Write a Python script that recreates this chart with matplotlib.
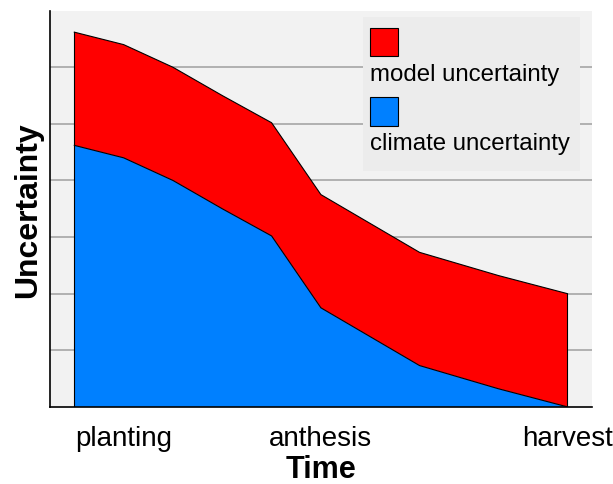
import numpy as np
import matplotlib
matplotlib.use("Agg")
import matplotlib.pyplot as plt
from matplotlib.patches import Rectangle

plt.rcParams['font.family'] = ['Liberation Sans', 'DejaVu Sans']

# stage positions along the season and stacked uncertainty values
time = [0, 1, 2, 3, 4, 5, 7, 8.6, 10]
climate = [4.62, 4.4, 4.0, 3.5, 3.02, 1.75, 0.73, 0.32, 0.0]
model = [2.0, 2.0, 2.0, 2.0, 2.0, 2.0, 2.0, 2.0, 2.0]
stage_pos = [1, 5, 10]
stage_labels = ['planting', 'anthesis', 'harvest']
series_names = ['model uncertainty', 'climate uncertainty']
colors = ['#ff0000', '#0080ff']

fig = plt.figure(figsize=(6.13, 4.85), dpi=100)
ax = fig.add_axes([0.081, 0.159, 0.885, 0.817])
ax.set_facecolor('#f2f2f2')

climate = np.array(climate)
total = climate + np.array(model)

ax.fill_between(time, 0, climate, facecolor=colors[1], edgecolor='none', zorder=2)
ax.fill_between(time, climate, total, facecolor=colors[0], edgecolor='none', zorder=2)
ax.plot(time, climate, color='black', lw=0.8, zorder=3)
ax.plot(time, total, color='black', lw=0.8, zorder=3)
ax.plot([time[0], time[0]], [0, total[0]], color='black', lw=0.8, zorder=3)
ax.plot([time[-1], time[-1]], [0, total[-1]], color='black', lw=0.8, zorder=3)

ax.set_xlim(-0.5, 10.5)
ax.set_ylim(0, 7)
ax.set_yticks(range(1, 7))
ax.set_yticklabels([])
ax.yaxis.grid(True, color='#a6a6a6', lw=1.2, zorder=1)
ax.set_axisbelow(True)
ax.tick_params(axis='y', length=0)
ax.set_xticks(stage_pos)
ax.set_xticklabels(stage_labels, fontsize=20)
ax.tick_params(axis='x', length=0, pad=13)

for s in ['top', 'right']:
    ax.spines[s].set_visible(False)
for s in ['left', 'bottom']:
    ax.spines[s].set_color('black')
    ax.spines[s].set_linewidth(1.2)

ax.set_xlabel('Time', fontsize=22, fontweight='bold', labelpad=2)
ax.set_ylabel('Uncertainty', fontsize=23, fontweight='bold', labelpad=1)

# legend drawn as in the original: swatch above each label
ax.add_patch(Rectangle((0.578, 0.595), 0.399, 0.39, transform=ax.transAxes,
                       facecolor='#ececec', edgecolor='none', zorder=4))
sw_y = [0.885, 0.71]
txt_y = [0.84, 0.665]
for i in range(2):
    ax.add_patch(Rectangle((0.591, sw_y[i]), 0.051, 0.072, transform=ax.transAxes,
                           facecolor=colors[i], edgecolor='black', lw=0.8, zorder=5))
    ax.text(0.591, txt_y[i], series_names[i], transform=ax.transAxes,
            fontsize=17.3, va='center', ha='left', zorder=5)

fig.savefig('out.png', dpi=100)
